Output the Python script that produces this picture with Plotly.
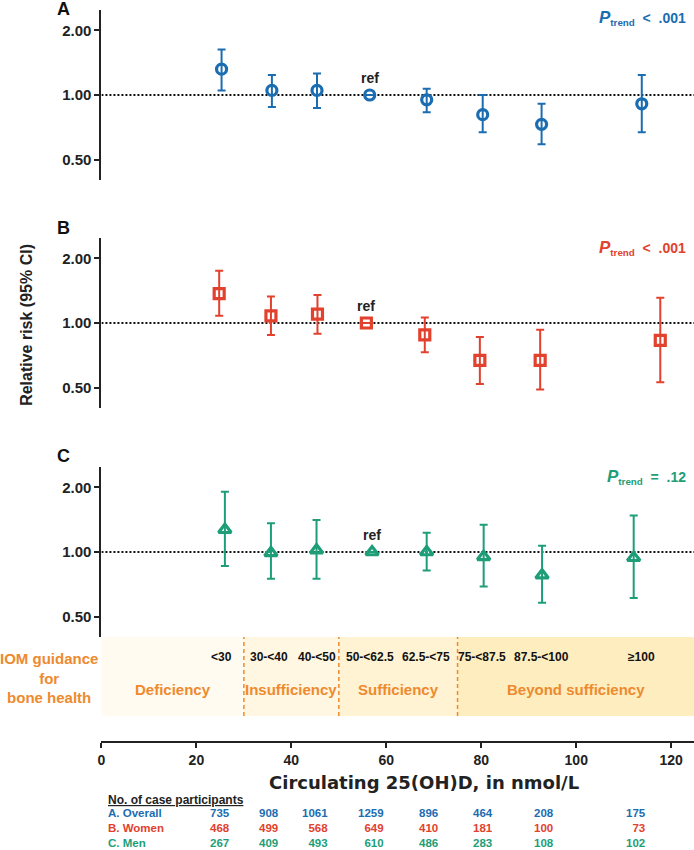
import plotly.graph_objects as go
import math

# ---------------- data ----------------
x_overall = [25.3, 35.9, 45.4, 56.5, 68.5, 80.3, 92.7, 113.8]
rr_overall = [1.32, 1.05, 1.05, 1.00, 0.95, 0.81, 0.73, 0.91]
lo_overall = [1.05, 0.88, 0.87, 1.00, 0.83, 0.67, 0.59, 0.67]
hi_overall = [1.63, 1.24, 1.26, 1.00, 1.07, 1.00, 0.91, 1.24]

x_women = [24.8, 35.7, 45.5, 55.8, 68.1, 79.7, 92.4, 117.7]
rr_women = [1.37, 1.08, 1.10, 1.00, 0.88, 0.67, 0.67, 0.83]
lo_women = [1.08, 0.88, 0.89, 1.00, 0.73, 0.52, 0.49, 0.53]
hi_women = [1.75, 1.33, 1.35, 1.00, 1.06, 0.86, 0.93, 1.31]

x_men = [26.0, 35.7, 45.3, 57.0, 68.5, 80.5, 92.8, 112.1]
rr_men = [1.27, 0.99, 1.02, 1.00, 1.00, 0.95, 0.78, 0.94]
lo_men = [0.86, 0.75, 0.75, 1.00, 0.82, 0.69, 0.58, 0.61]
hi_men = [1.91, 1.36, 1.41, 1.00, 1.23, 1.34, 1.07, 1.48]

category_labels = ["<30", "30-<40", "40-<50", "50-<62.5", "62.5-<75", "75-<87.5", "87.5-<100", "≥100"]
category_mid = [25.3, 35.3, 45.3, 56.5, 68.3, 80.2, 92.6, 113.7]

iom_names = ["Deficiency", "Insufficiency", "Sufficiency", "Beyond sufficiency"]
iom_bounds = [0, 30, 50, 75, 124.8]

n_overall = [735, 908, 1061, 1259, 896, 464, 208, 175]
n_women = [468, 499, 568, 649, 410, 181, 100, 73]
n_men = [267, 409, 493, 610, 486, 283, 108, 102]
row_labels = ["A. Overall", "B. Women", "C. Men"]

p_trend = ["<  .001", "<  .001", "=  .12"]
ref_x = [56.5, 55.8, 57.0]

# ---------------- styling ----------------
W, H = 694, 850
BLUE = "#1B6DB2"
RED = "#E2412E"
GREEN = "#1E9E78"
ORANGE = "#EE8A2E"
FONT = "Liberation Sans, Arial, sans-serif"
WIDE = "DejaVu Sans, Liberation Sans, sans-serif"
band_colors = ["#FFFBF1", "#FFF7E2", "#FFF3D4", "#FDEDBF"]
row_colors = [BLUE, RED, GREEN]

def px(x):
    return x / W

def py(y):
    return 1 - y / H

x_dom = [px(98), 1.0]
x_max = 124.8
yr = math.log10(2.49)

fig = go.Figure()

panels = [
    (x_overall, rr_overall, lo_overall, hi_overall, BLUE, "circle-open", "y", 10),
    (x_women, rr_women, lo_women, hi_women, RED, "square-open", "y2", 10),
    (x_men, rr_men, lo_men, hi_men, GREEN, "triangle-up-open", "y3", 11),
]

for xs, rr, lo, hi, col, sym, yax, msize in panels:
    fig.add_trace(go.Scatter(
        x=[0, x_max], y=[1, 1], mode="lines", xaxis="x", yaxis=yax,
        line=dict(color="#111111", width=2.2, dash="2px,2px"),
        hoverinfo="skip", showlegend=False))
    fig.add_trace(go.Scatter(
        x=xs, y=rr, mode="markers", xaxis="x", yaxis=yax,
        marker=dict(symbol=sym, size=msize, color=col, line=dict(width=3.2, color=col)),
        error_y=dict(type="data", symmetric=False,
                     array=[h - r for h, r in zip(hi, rr)],
                     arrayminus=[r - l for r, l in zip(rr, lo)],
                     color=col, thickness=2, width=4),
        showlegend=False))

yaxis_common = dict(
    type="log", range=[-yr, yr], anchor="x",
    tickvals=[0.5, 1, 2], ticktext=["0.50", "1.00", "2.00"],
    ticks="outside", ticklen=5, tickwidth=2, tickcolor="#222",
    showline=True, linecolor="#222", linewidth=2,
    showgrid=False, zeroline=False,
    tickfont=dict(family=FONT, size=15, color="#222", weight="bold"),
)

fig.update_layout(
    width=W, height=H, autosize=False,
    margin=dict(l=0, r=0, t=0, b=0),
    plot_bgcolor="white", paper_bgcolor="white",
    showlegend=False,
    xaxis=dict(domain=x_dom, range=[0, x_max], anchor="free", position=py(742),
               tickvals=[0, 20, 40, 60, 80, 100, 120],
               ticks="outside", ticklen=5, tickwidth=2, tickcolor="#222",
               showline=True, linecolor="#222", linewidth=2,
               showgrid=False, zeroline=False,
               tickfont=dict(family=FONT, size=14, color="#222", weight="bold")),
    yaxis=dict(domain=[py(180), py(10)], **yaxis_common),
    yaxis2=dict(domain=[py(408), py(238)], **yaxis_common),
    yaxis3=dict(domain=[py(637), py(467)], **yaxis_common),
)

shapes = []
band_y0, band_y1 = py(716), py(637)
for i in range(4):
    shapes.append(dict(type="rect", xref="x", yref="paper",
                       x0=iom_bounds[i], x1=iom_bounds[i + 1], y0=band_y0, y1=band_y1,
                       fillcolor=band_colors[i], line=dict(width=0), layer="below"))
for b in iom_bounds[1:4]:
    shapes.append(dict(type="line", xref="x", yref="paper", x0=b, x1=b,
                       y0=band_y0, y1=band_y1,
                       line=dict(color=ORANGE, width=1.5, dash="4px,3px")))
fig.update_layout(shapes=shapes)

ann = []

def add(text, x, y, xref="paper", yref="paper", xanchor="center", yanchor="middle",
        size=14, color="#222", family=FONT, **kw):
    ann.append(dict(text=text, x=x, y=y, xref=xref, yref=yref, xanchor=xanchor,
                    yanchor=yanchor, showarrow=False,
                    font=dict(family=family, size=size, color=color, weight="bold"), **kw))

# panel letters
for letter, yy in zip(["A", "B", "C"], [9, 228, 456]):
    add(letter, px(60), py(yy), size=18, color="#111")
# p-trend
for txt, yy, col in zip(p_trend, [18, 248, 477], [BLUE, RED, GREEN]):
    add("<i><span style='font-size:17px'>P</span></i><sub>trend</sub>  " + txt,
        px(688), py(yy), xanchor="right", size=14, color=col)
# ref labels
for rx, yax in zip(ref_x, ["y", "y2", "y3"]):
    add("ref", rx, 0, xref="x", yref=yax, yshift=17, size=14)
# y-axis title
add("Relative risk (95% CI)", px(22), py(325), size=16, textangle=-90)
# category range labels
for lab, xm in zip(category_labels, category_mid):
    add(lab, xm, py(657), xref="x", size=12, color="#111")
# IOM names
for i, name in enumerate(iom_names):
    xm = (iom_bounds[i] + iom_bounds[i + 1]) / 2
    add(name, xm, py(689), xref="x", size=15, color=ORANGE)
add("IOM guidance<br>for<br>bone health", px(45), py(678), size=15, color=ORANGE, align="center")
# x-axis title
add("Circulating 25(OH)D, in nmol/L", px(422), py(782), size=18, family=WIDE)

# table of case counts (three rows drawn as multi-line text per column)
TS = 11.5
add("<u>No. of case participants</u>", px(103), py(800), xanchor="left", size=12)
add("<br>".join(f"<span style='color:{c}'>{t}</span>" for t, c in zip(row_labels, row_colors)),
    px(103), py(828), xanchor="left", size=TS, align="left")
col_right = [229, 279, 328, 384, 439, 494, 555, 648]
for j, cx in enumerate(col_right):
    vals = [n_overall[j], n_women[j], n_men[j]]
    add("<br>".join(f"<span style='color:{c}'>{v}</span>" for v, c in zip(vals, row_colors)),
        px(cx), py(828), xanchor="right", size=TS, align="right")
fig.update_layout(annotations=ann)

fig.write_html("out.html", config={"displayModeBar": False},
               post_script="document.body.style.margin='0';document.body.style.overflow='hidden';")
